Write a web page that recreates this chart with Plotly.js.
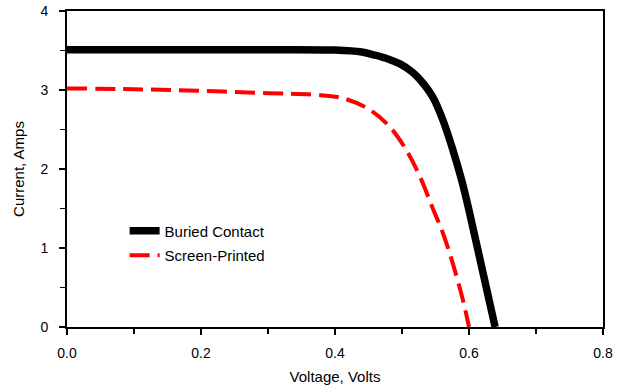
<!DOCTYPE html>
<html>
<head>
<meta charset="utf-8">
<script src="https://cdn.plot.ly/plotly-3.0.1.min.js"></script>
<style>html,body{margin:0;padding:0;background:#fff;}#chart{width:617px;height:390px;}</style>
</head>
<body>
<div id="chart"></div>
<script>
// Buried Contact cell I-V curve
const buriedVoltage = [0, 0.1, 0.2, 0.3, 0.4, 0.44, 0.46, 0.48, 0.497, 0.515, 0.527, 0.546, 0.561, 0.576, 0.589, 0.601, 0.62, 0.639];
const buriedCurrent = [3.51, 3.51, 3.51, 3.51, 3.505, 3.48, 3.44, 3.39, 3.33, 3.23, 3.13, 2.91, 2.62, 2.24, 1.86, 1.44, 0.72, 0.0];
// Screen-Printed cell I-V curve
const screenVoltage = [0, 0.1, 0.2, 0.3, 0.37, 0.41, 0.45, 0.48, 0.505, 0.527, 0.546, 0.561, 0.576, 0.591, 0.60];
const screenCurrent = [3.02, 3.01, 2.99, 2.96, 2.94, 2.90, 2.76, 2.55, 2.26, 1.90, 1.50, 1.19, 0.80, 0.34, 0.0];
const seriesNames = ["Buried Contact", "Screen-Printed"];
const xTitle = "Voltage, Volts";
const yTitle = "Current, Amps";

const font = "Liberation Sans, Arial, sans-serif";
const traces = [
  {x: buriedVoltage, y: buriedCurrent, name: seriesNames[0], mode: "lines", legendgroup: "a",
   line: {color: "#000000", width: 7.5, shape: "spline", smoothing: 1}},
  {x: screenVoltage, y: screenCurrent, name: seriesNames[1], mode: "lines", legendgroup: "b",
   line: {color: "#ff0000", width: 4, dash: "20px,8px", shape: "spline", smoothing: 1}}
];
const axisCommon = {
  showline: true, linecolor: "#000", linewidth: 2, mirror: true,
  showgrid: false, zeroline: false,
  ticks: "outside", ticklen: 6, tickwidth: 1.5, tickcolor: "#000",
  tickfont: {family: font, size: 14, color: "#000"}
};
const layout = {
  width: 617, height: 390,
  margin: {l: 67, r: 14, t: 11, b: 63},
  paper_bgcolor: "#fff", plot_bgcolor: "#fff",
  showlegend: true,
  legend: {x: 0.1075, y: 0.356, xanchor: "left", yanchor: "top", tracegroupgap: 2,
           bgcolor: "rgba(0,0,0,0)", font: {family: font, size: 15, color: "#000"}},
  xaxis: Object.assign({}, axisCommon, {
    range: [0, 0.8], dtick: 0.2, tick0: 0, tickformat: ".1f",
    ticklabelstandoff: 6,
    minor: {ticks: "outside", dtick: 0.1, ticklen: 5, tickwidth: 1.5, tickcolor: "#000"},
    title: {text: xTitle, font: {family: font, size: 15, color: "#000"}, standoff: 12}
  }),
  yaxis: Object.assign({}, axisCommon, {
    range: [0, 4], dtick: 1, tick0: 0,
    ticklabelstandoff: 8,
    minor: {ticks: "outside", dtick: 0.5, ticklen: 5, tickwidth: 1.5, tickcolor: "#000"},
    title: {text: yTitle, font: {family: font, size: 15, color: "#000"}, standoff: 12}
  })
};
Plotly.newPlot("chart", traces, layout, {staticPlot: true, displayModeBar: false});
</script>
</body>
</html>
